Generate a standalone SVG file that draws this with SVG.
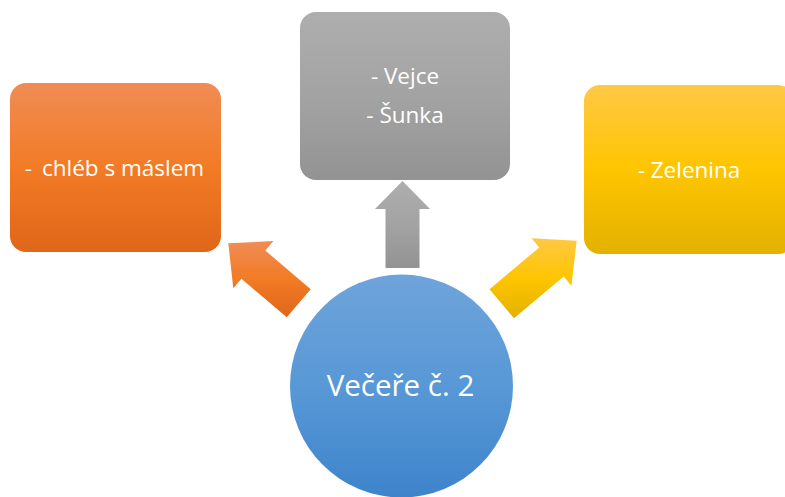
<svg xmlns="http://www.w3.org/2000/svg" width="785" height="497" viewBox="0 0 785 497">
<defs>
<linearGradient id="gOr" x1="0" y1="0" x2="0" y2="1"><stop offset="0" stop-color="#F08C55"/><stop offset="0.5" stop-color="#F27B25"/><stop offset="1" stop-color="#E0661A"/></linearGradient>
<linearGradient id="gGr" x1="0" y1="0" x2="0" y2="1"><stop offset="0" stop-color="#AEAEAE"/><stop offset="0.5" stop-color="#A3A3A3"/><stop offset="1" stop-color="#939393"/></linearGradient>
<linearGradient id="gYe" x1="0" y1="0" x2="0" y2="1"><stop offset="0" stop-color="#FFC845"/><stop offset="0.5" stop-color="#FEC500"/><stop offset="1" stop-color="#E3B100"/></linearGradient>
<linearGradient id="gBl" x1="0" y1="0" x2="0" y2="1"><stop offset="0" stop-color="#6FA4DB"/><stop offset="0.5" stop-color="#5898D6"/><stop offset="1" stop-color="#3E84CB"/></linearGradient>
<style>
text{font-family:"Open Sans","Noto Sans",sans-serif;fill:#FFFFFF;text-anchor:middle}
.box{font-size:22.5px}
.c{font-size:29.5px}
</style>
</defs>
<g id="connectors">
<polygon fill="url(#gGr)" points="402.5,181 430,209 419.5,209 419.5,268 385.5,268 385.5,209 375,209"/>
<polygon fill="url(#gOr)" points="228.3,243.3 273.5,241.1 265.4,250.6 310.7,289.2 286.8,317.3 241.4,278.8 233.3,288.3"/>
<polygon fill="url(#gYe)" points="576.7,240.7 571.4,285.7 563.7,276.5 514,318.3 489.5,289.3 539.2,247.4 531.5,238.2"/>
</g>
<g id="node-orange">
<rect x="10" y="83" width="211" height="169" rx="16" fill="url(#gOr)"/>
<text class="box" x="114.5" y="176">- <tspan dx="4">chléb s máslem</tspan></text>
</g>
<g id="node-grey">
<rect x="300" y="12" width="210" height="168" rx="16" fill="url(#gGr)"/>
<text class="box" x="405" y="84">- Vejce</text>
<text class="box" x="405" y="123">- Šunka</text>
</g>
<g id="node-yellow">
<rect x="584" y="85" width="210" height="169" rx="16" fill="url(#gYe)"/>
<text class="box" x="689" y="178">- Zelenina</text>
</g>
<g id="node-center">
<circle cx="401.5" cy="386" r="111.5" fill="url(#gBl)"/>
<text class="c" x="400.5" y="396">Večeře č. 2</text>
</g>
</svg>
